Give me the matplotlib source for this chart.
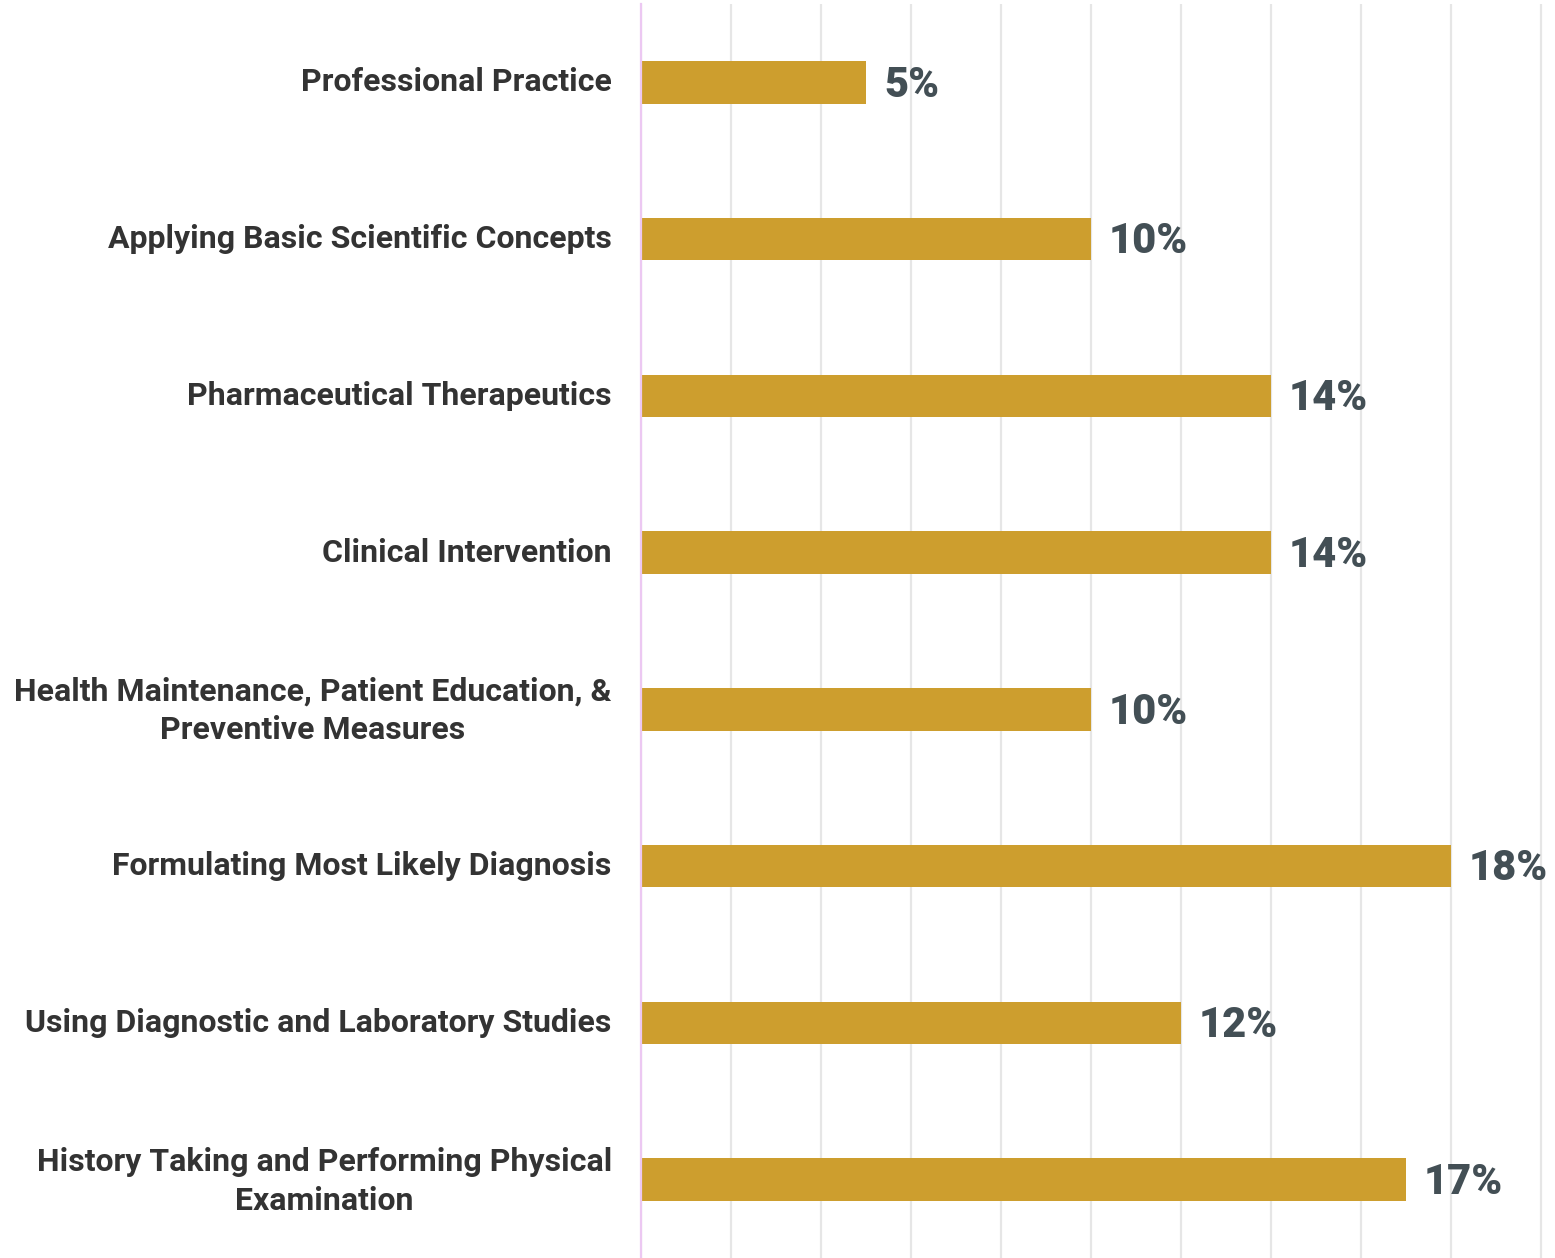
import matplotlib
matplotlib.use("Agg")
import matplotlib.pyplot as plt
from matplotlib.transforms import ScaledTranslation

categories = [
    "Professional Practice",
    "Applying Basic Scientific Concepts",
    "Pharmaceutical Therapeutics",
    "Clinical Intervention",
    "Health Maintenance, Patient Education, &\nPreventive Measures",
    "Formulating Most Likely Diagnosis",
    "Using Diagnostic and Laboratory Studies",
    "History Taking and Performing Physical\nExamination",
]
values = [5, 10, 14, 14, 10, 18, 12, 17]

fig = plt.figure(figsize=(15.55, 12.58), dpi=100)
ax = fig.add_axes([641 / 1555, 0, (1555 - 641) / 1555, 1 - 4 / 1258])

y = list(range(len(categories)))
ax.barh(y, values, height=0.27, color="#CD9E2E", zorder=3)

ax.set_ylim(len(categories) - 0.5, -0.5)
ax.set_xlim(0, 20.31)
ax.set_xticks(range(0, 21, 2))
ax.tick_params(axis="x", length=0, labelbottom=False)
ax.grid(axis="x", color="#e6e6e6", linewidth=1.6, zorder=0)
for s in ["top", "right", "bottom"]:
    ax.spines[s].set_visible(False)
ax.spines["left"].set_color("#ecc8f2")
ax.spines["left"].set_linewidth(1.6)
ax.spines["left"].set_zorder(4)

ax.set_yticks(y)
ax.set_yticklabels(categories, fontfamily="Roboto", fontweight="bold",
                   fontsize=23, color="#333333", multialignment="center",
                   linespacing=1.38)
ax.tick_params(axis="y", length=0, pad=21)
for lbl in ax.get_yticklabels():
    dy = 6 if "\n" in lbl.get_text() else 3
    lbl.set_transform(lbl.get_transform() + ScaledTranslation(0, dy / 100, fig.dpi_scale_trans))

for yi, v in zip(y, values):
    ax.annotate(f"{v}%", xy=(v, yi), xytext=(13, -2), textcoords="offset points",
                ha="left", va="center", fontfamily="Roboto", fontweight=900,
                fontsize=30, color="#434F55")

fig.savefig("out.png", dpi=100)
